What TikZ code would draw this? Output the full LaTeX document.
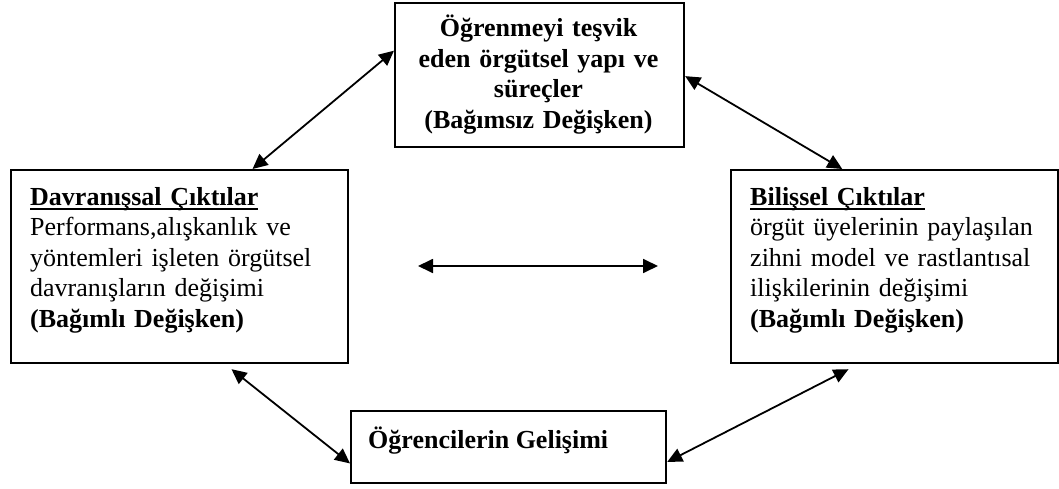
\documentclass[tikz,border=0pt]{standalone}
\usepackage{fontspec}
\setmainfont{Liberation Serif}
\usetikzlibrary{arrows.meta,calc}
\newsavebox\ulinebox
\newcommand\ulinetext[1]{\sbox\ulinebox{#1}\rlap{\rule[-5pt]{\wd\ulinebox}{2.2pt}}\usebox\ulinebox}
\begin{document}
\begin{tikzpicture}[x=1pt,y=-1pt,
  box/.style={draw,line width=2.2pt,rectangle,inner sep=0pt,anchor=north west},
  txt/.style={inner sep=0pt,font=\fontsize{26}{30.5}\selectfont},
  dbl/.style={{Triangle[length=15pt,width=14pt]}-{Triangle[length=15pt,width=14pt]},line width=1.8pt}]
\useasboundingbox (0,0) rectangle (1059,489);

% boxes
\node[box,minimum width=289pt,minimum height=144pt] (org) at (394,2) {};
\node[box,minimum width=337pt,minimum height=193pt] (dav) at (10,169) {};
\node[box,minimum width=327pt,minimum height=193pt] (bil) at (730,169) {};
\node[box,minimum width=315pt,minimum height=72pt] (ogr) at (350,410) {};

% box texts
\node[txt,anchor=base,text width=289pt,align=center] (orgt) at (538.5,37)
  {\bfseries Öğrenmeyi teşvik\\ eden örgütsel yapı ve\\ süreçler\\ (Bağımsız Değişken)};
\node[txt,anchor=base west,text width=315pt,align=left] (davt) at (30,205)
  {\textbf{\ulinetext{Davranışsal Çıktılar}}\\ Performans,alışkanlık ve\\ yöntemleri işleten örgütsel\\ davranışların değişimi\\ \textbf{(Bağımlı Değişken)}};
\node[txt,anchor=base west,text width=305pt,align=left] (bilt) at (750,205)
  {\textbf{\ulinetext{Bilişsel Çıktılar}}\\ örgüt üyelerinin paylaşılan\\ zihni model ve rastlantısal\\ ilişkilerinin değişimi\\ \textbf{(Bağımlı Değişken)}};
\node[txt,anchor=base west,font=\fontsize{26}{30.5}\selectfont\bfseries] (ogrt) at (368,448) {Öğrencilerin Gelişimi};

% connectors
\draw[dbl] ($(dav.north west)!0.715!(dav.north east)$) -- ($(org.north west)!0.333!(org.south west)$);
\draw[dbl] ($(org.north east)!0.507!(org.south east)$) -- ($(bil.north west)!0.341!(bil.north east)$);
\draw[dbl] ($(dav.south west)!0.653!(dav.south east)+(0,5)$) -- ($(ogr.north west)!0.72!(ogr.south west)$);
\draw[dbl] ($(ogr.north east)!0.70!(ogr.south east)$) -- ($(bil.south west)!0.36!(bil.south east)+(0,5)$);
\coordinate (ml) at (418,266);
\coordinate (mr) at (658,266);
\draw[dbl] (ml) -- (mr);
\end{tikzpicture}
\end{document}
